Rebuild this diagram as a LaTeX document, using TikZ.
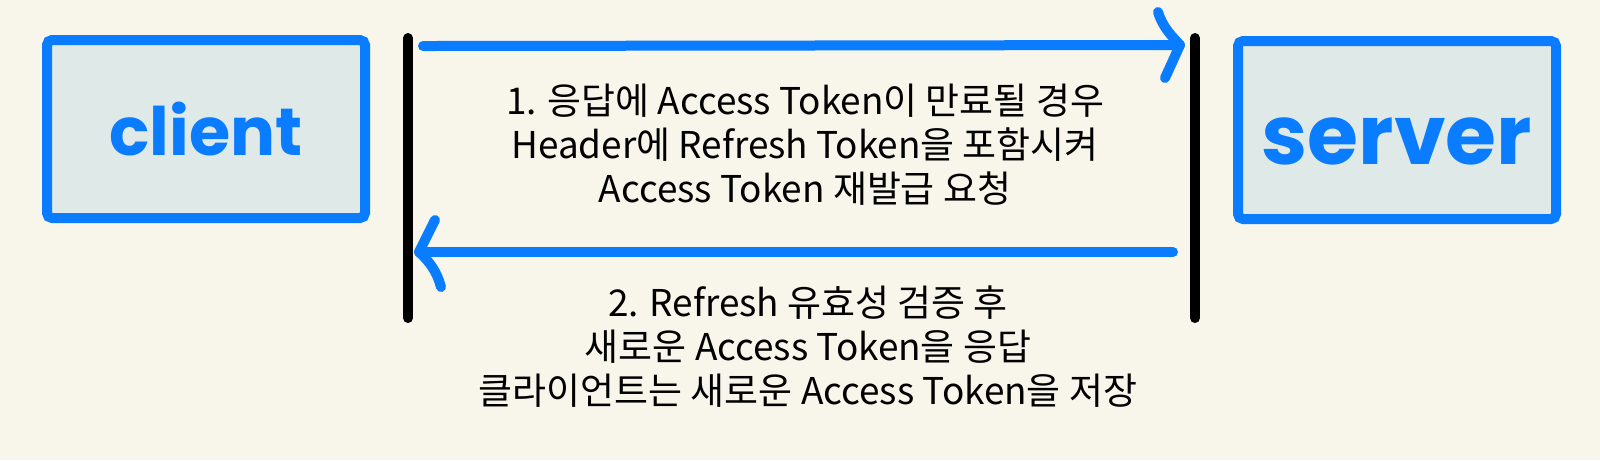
\documentclass[tikz,border=0pt]{standalone}
\usepackage{fontspec}
\setmainfont{Noto Sans CJK KR}
\newfontfamily\handfont{Poppins}
\usetikzlibrary{arrows.meta}
\definecolor{paper}{HTML}{F8F6EB}
\definecolor{boxfill}{HTML}{DEE9E8}
\definecolor{tokenblue}{HTML}{0A7CFF}
\tikzstyle{peer} = [draw=tokenblue,fill=boxfill,line width=1mm,rounded corners=0.5mm,minimum width=31.8mm,minimum height=17.8mm,text=tokenblue]
\tikzstyle{lifeline} = [line width=1mm,line cap=round]
\tikzstyle{msg} = [draw=tokenblue,line width=1mm,line cap=round,line join=round]
\tikzstyle{note} = [align=center,font=\fontsize{10.5}{12.5}\selectfont]
\begin{document}
\begin{tikzpicture}[x=0.1mm,y=-0.1mm]

\fill[paper] (0,0) rectangle (1600,460);
\useasboundingbox (0,0) rectangle (1600,460);

\node[peer,font=\handfont\bfseries\fontsize{19}{19}\selectfont] (client) at (206,129) {client};
\node[peer,text height=7mm,font=\handfont\bfseries\fontsize{23.5}{23.5}\selectfont] (server) at (1397,130) {server};

\coordinate (ctop) at (408,38);
\coordinate (cbot) at (408,318);
\coordinate (stop) at (1195,38);
\coordinate (sbot) at (1195,318);
\draw[lifeline] (ctop) -- (cbot);
\draw[lifeline] (stop) -- (sbot);

% 1. request
\coordinate (reqfrom) at (423,46);
\coordinate (reqtip) at (1180,45);
\draw[msg] (reqfrom) -- (reqtip);
\draw[msg] (1158,12) .. controls (1163,28) and (1172,36) .. (reqtip) -- (1165,78);

% 2. response
\coordinate (resfrom) at (1173,252);
\coordinate (restip) at (419,252);
\draw[msg] (resfrom) -- (restip);
\draw[msg] (435,220) -- (restip) .. controls (430,262) and (437,272) .. (441,287);

\node[note] (reqnote) at (805,145) {1. 응답에 Access Token이 만료될 경우\\Header에 Refresh Token을 포함시켜\\Access Token 재발급 요청};
\node[note] (resnote) at (808,347) {2. Refresh 유효성 검증 후\\새로운 Access Token을 응답\\클라이언트는 새로운 Access Token을 저장};

\end{tikzpicture}
\end{document}
